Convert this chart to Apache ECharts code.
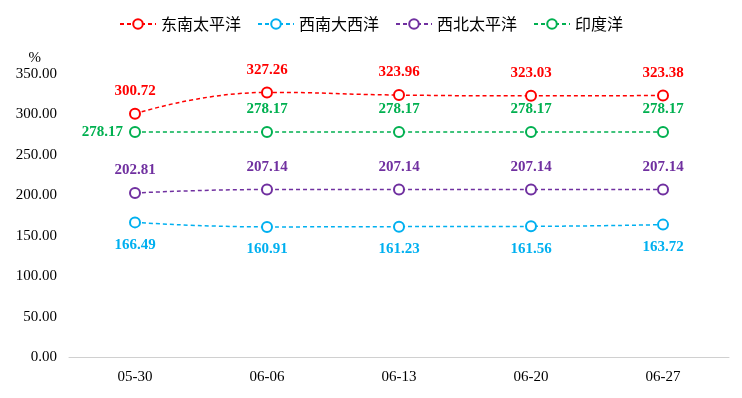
<!DOCTYPE html>
<html>
<head>
<meta charset="utf-8">
<script src="https://cdn.jsdelivr.net/npm/echarts@6/dist/echarts.min.js"></script>
<style>
  html, body { margin: 0; padding: 0; background: #fff; }
  #chart { width: 742px; height: 398px; }
</style>
</head>
<body>
<div id="chart"></div>
<script>
// 日期
var dates = ['05-30', '06-06', '06-13', '06-20', '06-27'];
// 各海区数值
var seSouthPacific = [300.72, 327.26, 323.96, 323.03, 323.38];
var swAtlantic = [166.49, 160.91, 161.23, 161.56, 163.72];
var nwPacific = [202.81, 207.14, 207.14, 207.14, 207.14];
var indianOcean = [278.17, 278.17, 278.17, 278.17, 278.17];
var yTicks = [0, 50, 100, 150, 200, 250, 300, 350];

var serif = '"Liberation Serif", "Times New Roman", serif';

function mkSeries(name, data, color, labelPos) {
  return {
    name: name,
    type: 'line',
    data: data,
    smooth: true,
    symbol: 'emptyCircle',
    symbolSize: 10,
    lineStyle: { color: color, width: 1.5, type: [4, 3] },
    itemStyle: { color: color, borderColor: color, borderWidth: 1.5 },
    label: {
      show: true,
      position: labelPos,
      distance: 9,
      color: color,
      fontFamily: serif,
      fontWeight: 'bold',
      fontSize: 15,
      formatter: function (p) { return p.value.toFixed(2); }
    }
  };
}

var green = mkSeries('印度洋', indianOcean, '#00B050', 'top');
// 第一个点标签放在左边
green.data = indianOcean.map(function (v, i) {
  return i === 0 ? { value: v, label: { position: 'left', distance: 6 } } : v;
});

var chart = echarts.init(document.getElementById('chart'));
chart.setOption({
  animation: false,
  legend: {
    top: 11,
    left: 'center',
    itemWidth: 36,
    itemHeight: 12,
    itemGap: 16,
    textStyle: { fontFamily: '"Noto Sans CJK SC", sans-serif', fontSize: 16, color: '#000' },
    data: ['东南太平洋', '西南大西洋', '西北太平洋', '印度洋']
  },
  grid: { left: 69, right: 13, top: 74, bottom: 41 },
  xAxis: {
    type: 'category',
    data: dates,
    boundaryGap: true,
    axisLine: { lineStyle: { color: '#d0d0d0', width: 1 } },
    axisTick: { show: false },
    axisLabel: { color: '#000', fontFamily: serif, fontSize: 15, margin: 13 }
  },
  yAxis: {
    type: 'value',
    min: yTicks[0],
    max: yTicks[yTicks.length - 1],
    interval: 50,
    name: '%',
    nameLocation: 'end',
    nameGap: 8,
    nameTextStyle: { color: '#000', fontFamily: serif, fontSize: 15, align: 'right', padding: [0, 28, 0, 0] },
    axisLine: { show: false },
    axisTick: { show: false },
    splitLine: { show: false },
    axisLabel: {
      color: '#000', fontFamily: serif, fontSize: 15, margin: 12,
      formatter: function (v) { return v.toFixed(2); }
    }
  },
  series: [
    mkSeries('东南太平洋', seSouthPacific, '#FF0000', 'top'),
    mkSeries('西南大西洋', swAtlantic, '#00B0F0', 'bottom'),
    mkSeries('西北太平洋', nwPacific, '#7030A0', 'top'),
    green
  ]
});
</script>
</body>
</html>
